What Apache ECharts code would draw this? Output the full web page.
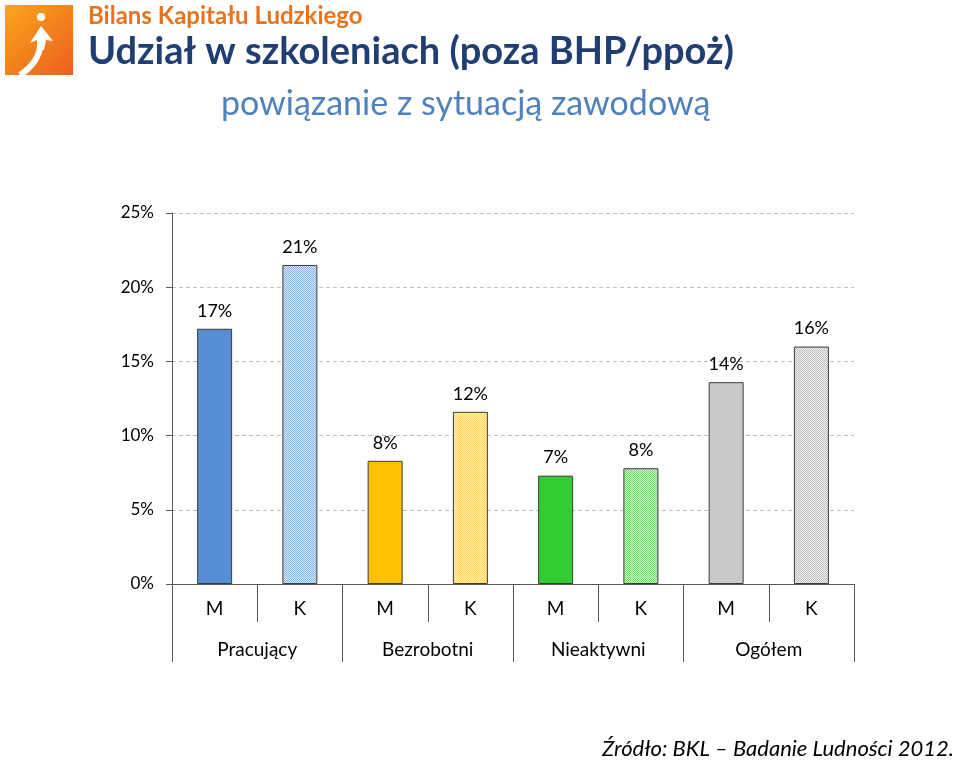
<!DOCTYPE html>
<html>
<head>
<meta charset="utf-8">
<script src="https://cdn.jsdelivr.net/npm/echarts@6/dist/echarts.min.js"></script>
<style>
  html, body { margin: 0; padding: 0; background: #fff; }
  #chart { width: 960px; height: 762px; }
</style>
</head>
<body>
<div id="chart"></div>
<script>
// dane
const categories = ['M', 'K', 'M', 'K', 'M', 'K', 'M', 'K']
const groups = ['Pracujący', 'Bezrobotni', 'Nieaktywni', 'Ogółem']
const values = [17.2, 21.5, 8.3, 11.6, 7.3, 7.8, 13.6, 16.0]
const valueLabels = ['17%', '21%', '8%', '12%', '7%', '8%', '14%', '16%']
const yMax = 25
const yStep = 5

const FONT = 'Lato, "Open Sans", sans-serif'

// drobny wzór w kratkę dla słupków K
function makePattern(fg, bg) {
  const c = document.createElement('canvas')
  c.width = 2
  c.height = 2
  const ctx = c.getContext('2d')
  ctx.fillStyle = bg
  ctx.fillRect(0, 0, 2, 2)
  ctx.fillStyle = fg
  ctx.fillRect(0, 0, 1, 1)
  ctx.fillRect(1, 1, 1, 1)
  return { image: c, repeat: 'repeat' }
}

const fills = [
  '#558ED5',
  makePattern('#8DB3E2', '#DCE6F2'),
  '#FFC000',
  makePattern('#F5D25A', '#FFF4C8'),
  '#33CC33',
  makePattern('#7CD67C', '#D2F2D2'),
  '#C8C8C8',
  makePattern('#BFBFBF', '#F0F0F0')
]

const chart = echarts.init(document.getElementById('chart'))

chart.setOption({
  backgroundColor: '#fff',
  animation: false,
  grid: {
    left: 172,
    right: 106,
    top: 213,
    bottom: 178,
    containLabel: false,
    outerBoundsMode: 'none'
  },
  graphic: [
    // logo
    {
      type: 'rect',
      shape: { x: 5, y: 5, width: 68, height: 70 },
      style: {
        fill: new echarts.graphic.LinearGradient(0, 0, 1, 1, [
          { offset: 0, color: '#F9A61C' },
          { offset: 1, color: '#EC5F1E' }
        ])
      }
    },
    {
      type: 'circle',
      shape: { cx: 41, cy: 17, r: 4 },
      style: { fill: '#fff' }
    },
    {
      type: 'polygon',
      shape: { points: [[41, 26], [53, 41], [46, 40], [44, 50], [37, 50], [37, 40], [30, 43]] },
      style: { fill: '#fff' }
    },
    {
      type: 'bezierCurve',
      shape: { x1: 40, y1: 46, cpx1: 39, cpy1: 58, cpx2: 32, cpy2: 67, x2: 20, y2: 75 },
      style: { stroke: '#fff', lineWidth: 6, fill: null }
    },
    {
      type: 'text',
      left: 88,
      top: 4,
      style: { text: 'Bilans Kapitału Ludzkiego', fill: '#E8731E', font: 'bold 24px ' + FONT }
    },
    {
      type: 'text',
      left: 88,
      top: 33,
      style: { text: 'Udział w szkoleniach (poza BHP/ppoż)', fill: '#1F3F73', font: 'bold 38px ' + FONT }
    },
    {
      type: 'text',
      left: 221,
      top: 87,
      style: { text: 'powiązanie z sytuacją zawodową', fill: '#4F81BD', font: '34px ' + FONT }
    },
    {
      type: 'text',
      right: 6,
      top: 738,
      style: { text: 'Źródło: BKL – Badanie Ludności 2012.', fill: '#000', font: 'italic 22px ' + FONT }
    }
  ],
  xAxis: [
    {
      type: 'category',
      data: categories,
      position: 'bottom',
      axisLine: { show: true, lineStyle: { color: '#595959', width: 1 } },
      axisTick: { show: true, interval: 0, length: 38, lineStyle: { color: '#595959' } },
      axisLabel: { interval: 0, margin: 15, color: '#000', fontSize: 19, fontFamily: FONT }
    },
    {
      type: 'category',
      data: groups,
      position: 'bottom',
      axisLine: { show: false },
      axisTick: { show: true, interval: 0, length: 78, lineStyle: { color: '#595959' } },
      axisLabel: { interval: 0, margin: 56, color: '#000', fontSize: 19, fontFamily: FONT }
    }
  ],
  yAxis: {
    type: 'value',
    min: 0,
    max: yMax,
    interval: yStep,
    axisLine: { show: true, lineStyle: { color: '#595959' } },
    axisTick: { show: true, length: 6, lineStyle: { color: '#595959' } },
    axisLabel: {
      formatter: '{value}%',
      margin: 18,
      color: '#000',
      fontSize: 17,
      fontFamily: FONT
    },
    splitLine: { show: true, lineStyle: { color: '#BFBFBF', type: [4, 3], width: 1 } }
  },
  series: [
    {
      type: 'bar',
      xAxisIndex: 0,
      barWidth: 35,
      data: values.map((v, i) => ({
        value: v,
        itemStyle: { color: fills[i], borderColor: '#3A3A3A', borderWidth: 1 }
      })),
      label: {
        show: true,
        position: 'top',
        distance: 9,
        color: '#000',
        fontSize: 18,
        fontFamily: FONT,
        formatter: p => valueLabels[p.dataIndex]
      }
    }
  ]
})
</script>
</body>
</html>
